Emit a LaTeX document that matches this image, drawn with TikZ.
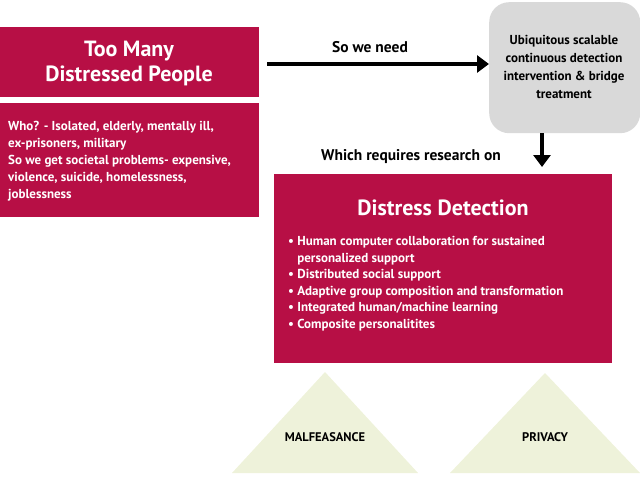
\documentclass[tikz,border=0pt]{standalone}
\usepackage{fontspec}
\setmainfont{PT Sans}
\usetikzlibrary{arrows.meta}
\definecolor{crim}{HTML}{B70F45}
\definecolor{greyb}{HTML}{D9D9D9}
\definecolor{tri}{HTML}{EEF2DA}
\tikzset{
  box/.style={fill=crim,draw=none,inner sep=0pt},
  wt/.style={text=white,font=\bfseries,align=left,anchor=north west,inner sep=0pt},
  arr/.style={line width=3.5pt,-{Triangle[length=12pt,width=17pt]}},
  tl/.style={font=\bfseries\fontsize{12.5}{14}\selectfont}
}
\begin{document}
\begin{tikzpicture}[x=1pt,y=-1pt]
\useasboundingbox (0,0) rectangle (640,477);
\fill[tri] (232,473) -- (325,372) -- (418,473) -- cycle;
\fill[tri] (450,473) -- (545,373) -- (640,473) -- cycle;
\node[tl] (m) at (325,437) {MALFEASANCE};
\node[tl] (p) at (545,437) {PRIVACY};
\node[box,minimum width=259pt,minimum height=70pt,anchor=north west] (a) at (0,27) {};
\node[text=white,font=\bfseries\fontsize{22}{25}\selectfont,align=center] (at) at (129,63) {Too Many\\Distressed People};
\node[box,minimum width=259pt,minimum height=114pt,anchor=north west] (b) at (0,103) {};
\node[wt,font=\bfseries\fontsize{13}{17}\selectfont] (bt) at (8,121) {Who? - Isolated, elderly, mentally ill,\\ex-prisoners, military\\So we get societal problems- expensive,\\violence, suicide, homelessness,\\joblessness};
\node[fill=greyb,rounded corners=20pt,minimum width=151pt,minimum height=131pt,anchor=north west] (g) at (489,2) {};
\node[font=\bfseries\fontsize{13}{18.2}\selectfont,align=center] (gt) at (564,67) {Ubiquitous scalable\\continuous detection\\intervention \& bridge\\treatment};
\coordinate (s) at (267,64);
\draw[arr] (s) -- (g.west |- s);
\node[font=\bfseries\fontsize{15.5}{17}\selectfont] (sw) at (370,47) {So we need};
\coordinate (gb) at (542,133);
\draw[arr] (gb) -- (542,167);
\node[font=\bfseries\fontsize{15.5}{17}\selectfont] (wr) at (411,157) {Which requires research on};
\node[box,minimum width=338pt,minimum height=189pt,anchor=north west] (c) at (274,174) {};
\node[text=white,font=\bfseries\fontsize{22}{25}\selectfont] (ct) at (443,208) {Distress Detection};
\node[wt,font=\bfseries\fontsize{13}{16.6}\selectfont] (cl) at (288,236) {• Human computer collaboration for sustained\\\phantom{• }personalized support\\• Distributed social support\\• Adaptive group composition and transformation\\• Integrated human/machine learning\\• Composite personalitites};
\end{tikzpicture}
\end{document}
